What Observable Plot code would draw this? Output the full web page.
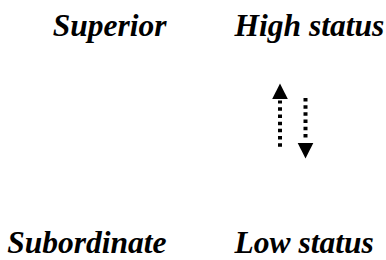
<!DOCTYPE html>
<html><head><meta charset="utf-8">
<script src="https://cdn.jsdelivr.net/npm/d3@7"></script>
<script src="https://cdn.jsdelivr.net/npm/@observablehq/plot@0.6"></script>
<style>html,body{margin:0;padding:0;background:#fff;}</style>
</head><body><div id="chart"></div>
<script>
// Diagram content
const labels = ["Superior", "High status", "Subordinate", "Low status"];
const columns = ["Role", "Status", "Role", "Status"];
const rows = ["High", "High", "Low", "Low"];
const arrowDirections = ["up", "down"];
// arrow start / tip on the vertical status scale (Low = 0, High = 1)
const arrowFrom = [0.485, 0.71];
const arrowTo = [0.779, 0.433];

const rowLevel = {High: 1, Low: 0};
const table = labels.map((label, i) => ({label, column: columns[i], level: rowLevel[rows[i]]}));
const arrows = arrowDirections.map((dir, i) => ({dir, column: "Status", from: arrowFrom[i], to: arrowTo[i]}));

// styling / layout
const W = 386, H = 260;
const yTop = 35, yBottom = 252;
const unit = yBottom - yTop;
const headR = 7.8;          // half width / half height of the triangle head
const headLen = 2 * headR;
const gap = 2;
const arrowDx = [45.5, 71];
const font = "'Liberation Serif', 'Times New Roman', serif";

const triUp = {draw(ctx, size) { const r = Math.sqrt(size / Math.PI); ctx.moveTo(0, -r); ctx.lineTo(r, r); ctx.lineTo(-r, r); ctx.closePath(); }};
const triDown = {draw(ctx, size) { const r = Math.sqrt(size / Math.PI); ctx.moveTo(0, r); ctx.lineTo(r, -r); ctx.lineTo(-r, -r); ctx.closePath(); }};

const textOpts = {x: "column", y: "level", text: "label", lineAnchor: "bottom",
  fontSize: 31.5, fontWeight: "bold", fontStyle: "italic", fontFamily: font, fill: "black"};

const marks = [
  Plot.text(table.filter(d => d.column === "Role"), {...textOpts, textAnchor: "end"}),
  Plot.text(table.filter(d => d.column === "Status"), {...textOpts, textAnchor: "start"})
];
arrows.forEach((a, i) => {
  const s = a.dir === "up" ? 1 : -1;
  marks.push(Plot.ruleX([a], {x: "column", y1: "from", y2: d => d.to - s * (headLen + gap) / unit, dx: arrowDx[i],
    stroke: "black", strokeWidth: 4, strokeDasharray: "3.5,3.7"}));
  marks.push(Plot.dot([a], {x: "column", y: d => d.to - s * headR / unit, dx: arrowDx[i],
    symbol: a.dir === "up" ? triUp : triDown, r: headR, fill: "black", stroke: "none"}));
});

const chart = Plot.plot({
  width: W, height: H, margin: 0,
  x: {type: "point", domain: ["Role", "Status"], range: [166, 234], padding: 0, axis: null},
  y: {type: "linear", domain: [0, 1], range: [yBottom, yTop], axis: null},
  style: {background: "white"},
  marks
});
document.getElementById("chart").appendChild(chart);
</script>
</body></html>
